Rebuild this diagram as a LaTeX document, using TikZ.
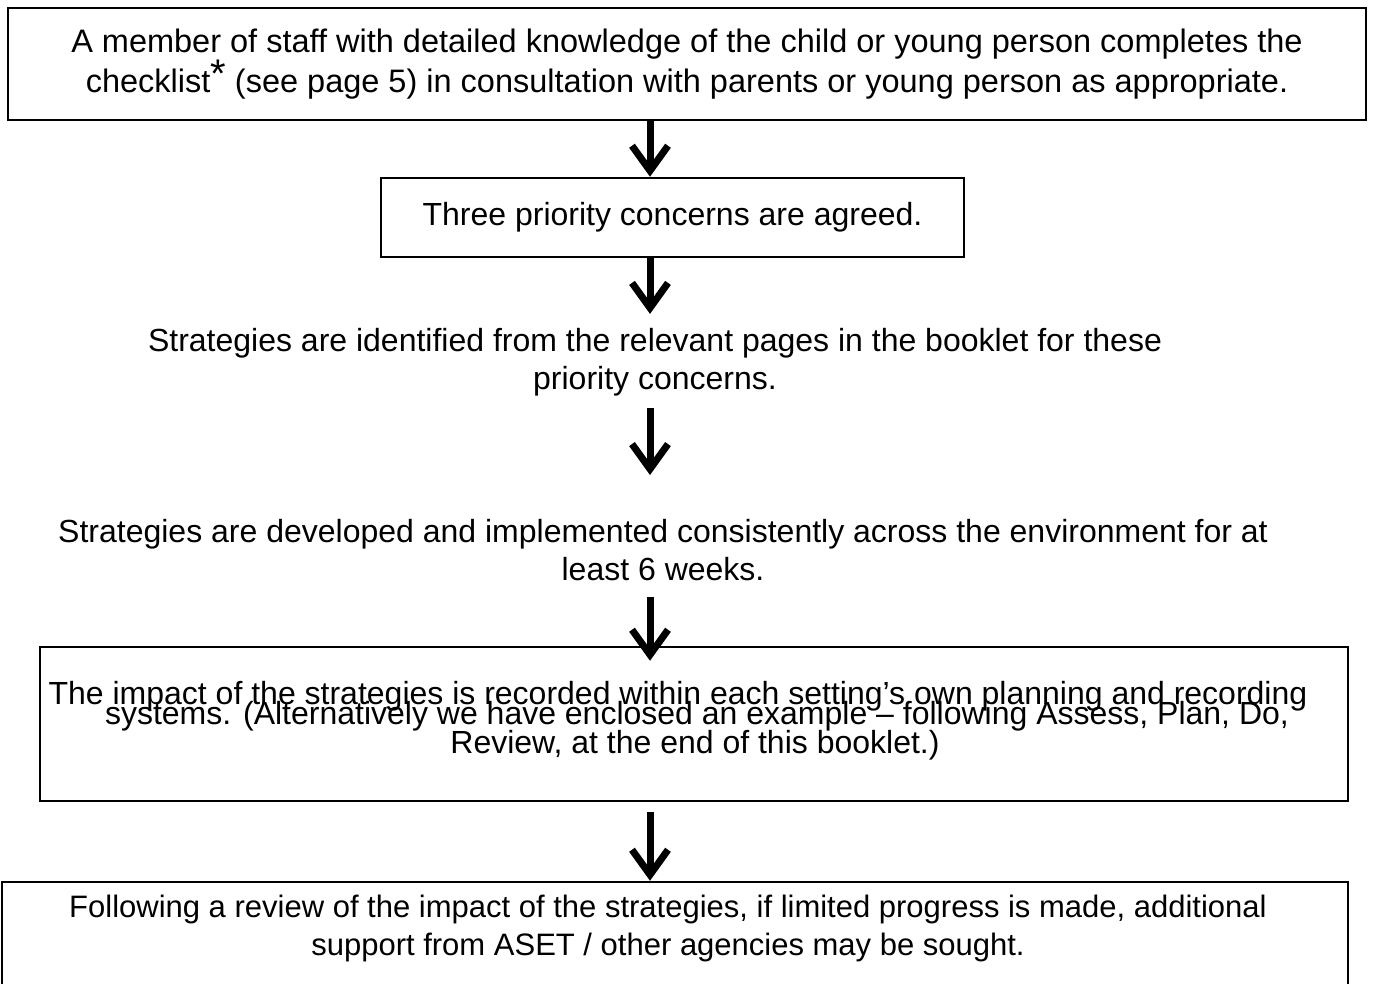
\documentclass[tikz,border=0pt]{standalone}
\usepackage{fontspec}
\setmainfont{Liberation Sans}
\usetikzlibrary{arrows.meta}

\begin{document}
\begin{tikzpicture}[x=1pt,y=-1pt,font=\fontsize{32}{38}\selectfont]
  \tikzstyle{stage}=[draw,line width=2.5pt,inner sep=0pt,align=center]
  \tikzstyle{note}=[inner sep=0pt,align=center]
  \tikzstyle{flow}=[line width=7pt,-{Straight Barb[length=25pt,width=36pt]}]
  \useasboundingbox (0,0) rectangle (1376,983);
  % the column the arrows run down
  \coordinate (spine) at (650,0);
  % boxed stages and free text in between
  \node[stage,minimum width=1358pt,minimum height=112pt,font=\fontsize{32.5}{38}\selectfont] (check) at (687,64)
    {A member of staff with detailed knowledge of the child or young person completes the\\
     checklist\raisebox{5pt}{\fontsize{40}{40}\selectfont*} (see page 5) in consultation with parents or young person as appropriate.};
  \node[stage,minimum width=583pt,minimum height=79pt] (agreed) at (672.5,217.5)
    {Three priority concerns are agreed.};
  \node[note] (ident) at (655,362)
    {Strategies are identified from the relevant pages in the booklet for these\\ priority concerns.};
  \node[note] (develop) at (663,550)
    {Strategies are developed and implemented consistently across the environment for at\\ least 6 weeks.};
  % box with the cramped three lines
  \node[stage,minimum width=1308pt,minimum height=154pt] (impact) at (694,724) {};
  \node[note] (impact1) at (678,696)
    {The impact of the strategies is recorded within each setting’s own planning and recording};
  \node[note] (impact2) at (697,716)
    {systems. (Alternatively we have enclosed an example – following Assess, Plan, Do,};
  \node[note] (impact3) at (695,745) {Review, at the end of this booklet.)};
  % last box runs off the bottom
  \node[stage,minimum width=1346pt,minimum height=130pt] (final) at (675,947) {};
  \node[note,font=\fontsize{31}{38}\selectfont] (finaltext) at (668,928)
    {Following a review of the impact of the strategies, if limited progress is made, additional\\
     support from ASET / other agencies may be sought.};
  % arrows between the stages
  \draw[flow] (check.south -| spine) -- (agreed.north -| spine);
  \draw[flow,shorten >=14pt] (agreed.south -| spine) -- (ident.north -| spine);
  \draw[flow,shorten <=12pt,shorten >=44pt] (ident.south -| spine) -- (develop.north -| spine);
  \draw[flow,shorten <=16pt,shorten >=-15pt] (develop.south -| spine) -- (impact.north -| spine);
  \draw[flow,shorten <=10pt] (impact.south -| spine) -- (final.north -| spine);
\end{tikzpicture}
\end{document}
